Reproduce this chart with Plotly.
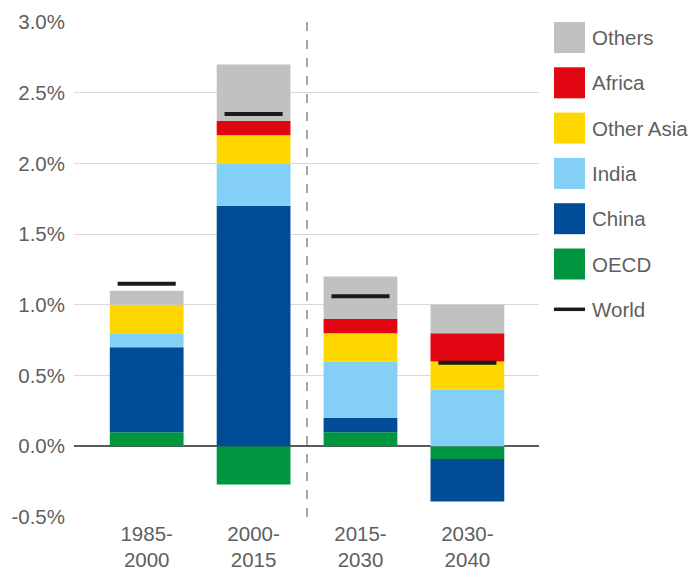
import plotly.graph_objects as go

categories = ["1985-<br>2000", "2000-<br>2015", "2015-<br>2030", "2030-<br>2040"]
series_names = ["OECD", "China", "India", "Other Asia", "Africa", "Others"]
oecd = [0.10, -0.27, 0.10, -0.09]
china = [0.60, 1.70, 0.10, -0.30]
india = [0.10, 0.30, 0.40, 0.40]
other_asia = [0.20, 0.20, 0.20, 0.20]
africa = [0.00, 0.10, 0.10, 0.20]
others = [0.10, 0.40, 0.30, 0.20]
world = [1.15, 2.35, 1.06, 0.59]
y_ticks = [-0.5, 0.0, 0.5, 1.0, 1.5, 2.0, 2.5, 3.0]
y_tick_labels = ["-0.5%", "0.0%", "0.5%", "1.0%", "1.5%", "2.0%", "2.5%", "3.0%"]

colors = {
    "OECD": "#00953f",
    "China": "#004c97",
    "India": "#83cff5",
    "Other Asia": "#ffd700",
    "Africa": "#e20613",
    "Others": "#c1c1c1",
}
values = {
    "OECD": oecd, "China": china, "India": india,
    "Other Asia": other_asia, "Africa": africa, "Others": others,
}

FONT = "Liberation Sans, Arial, sans-serif"
TXT = "#5f5f5f"
FS = 20.5

fig = go.Figure()
for name in series_names:
    fig.add_trace(go.Bar(
        x=categories, y=values[name], name=name,
        marker=dict(color=colors[name], line=dict(width=0)),
        width=0.69, showlegend=False, hoverinfo="skip",
    ))
fig.add_trace(go.Scatter(
    x=categories, y=world, name="World", mode="markers",
    marker=dict(symbol="line-ew", size=41.5, line=dict(width=4, color="#1a1a1a")),
    showlegend=False, hoverinfo="skip",
))

# plot area geometry in pixels
W, H = 692, 568
L, R, T, B = 74, 153, 22, 51
pw, ph = W - L - R, H - T - B

def px(xp):
    return (xp - L) / pw

def py(yp):
    return (H - B - yp) / ph

shapes = [
    dict(type="line", xref="x", yref="paper", x0=1.5, x1=1.5, y0=0, y1=1,
         line=dict(color="#8a8a8a", width=1.5, dash="dash"), layer="above"),
]
annotations = []
legend_items = ["Others", "Africa", "Other Asia", "India", "China", "OECD"]
row0, step = 37.5, 45.3
for i, name in enumerate(legend_items):
    cy = row0 + i * step
    shapes.append(dict(type="rect", xref="paper", yref="paper",
                       x0=px(554), x1=px(585), y0=py(cy + 15.5), y1=py(cy - 15.5),
                       fillcolor=colors[name], line=dict(width=0)))
    annotations.append(dict(xref="paper", yref="paper", x=px(590), y=py(cy),
                            text=name, showarrow=False, xanchor="left", yanchor="middle",
                            font=dict(family=FONT, size=FS, color=TXT)))
cy = row0 + 6 * step
shapes.append(dict(type="line", xref="paper", yref="paper",
                   x0=px(554), x1=px(585), y0=py(cy), y1=py(cy),
                   line=dict(color="#1a1a1a", width=3.5)))
annotations.append(dict(xref="paper", yref="paper", x=px(590), y=py(cy),
                        text="World", showarrow=False, xanchor="left", yanchor="middle",
                        font=dict(family=FONT, size=FS, color=TXT)))

fig.update_layout(
    width=W, height=H,
    margin=dict(l=L, r=R, t=T, b=B, pad=0, autoexpand=False),
    barmode="relative",
    plot_bgcolor="white", paper_bgcolor="white",
    font=dict(family=FONT, size=FS, color=TXT),
    shapes=shapes, annotations=annotations,
    hovermode=False,
    xaxis=dict(range=[-0.68, 3.67], showgrid=False, zeroline=False, showline=False,
               ticks="", tickfont=dict(size=FS, color=TXT), fixedrange=True,
               automargin=False, ticklabelstandoff=2),
    yaxis=dict(range=[-0.5, 3.0], tickvals=y_ticks, ticktext=y_tick_labels,
               showgrid=True, gridcolor="#d9d9d9", gridwidth=1,
               zeroline=True, zerolinecolor="#5a5a5a", zerolinewidth=2,
               showline=False, ticks="", ticklen=0, tickfont=dict(size=FS, color=TXT),
               fixedrange=True, automargin=False, ticklabelstandoff=8),
)

fig.write_html("out.html", config={"displayModeBar": False},
               post_script="document.body.style.margin='0';")
